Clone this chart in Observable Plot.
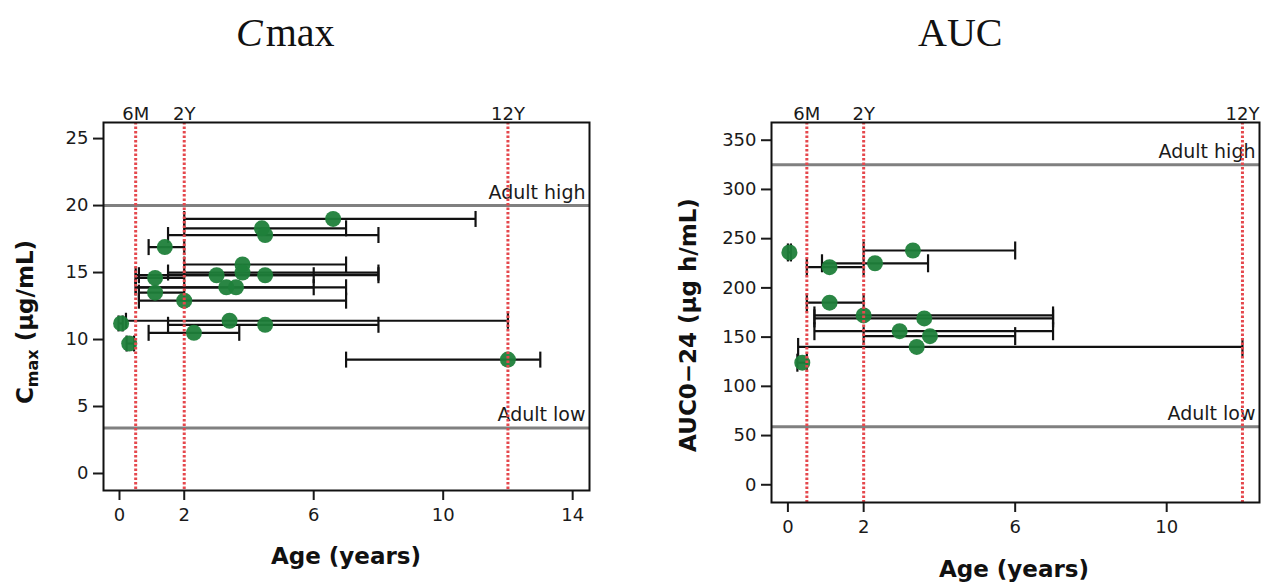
<!DOCTYPE html>
<html><head><meta charset="utf-8">
<script src="https://cdn.jsdelivr.net/npm/d3@7"></script>
<script src="https://cdn.jsdelivr.net/npm/@observablehq/plot@0.6"></script>
<style>
html,body{margin:0;padding:0;background:#fff;}
#wrap{position:relative;width:1261px;height:583px;overflow:hidden;background:#fff;}
.title{position:absolute;font-family:"Liberation Serif",serif;font-size:40px;line-height:1;color:#111;white-space:nowrap;}
#left,#right{position:absolute;top:60px;}
#left{left:0;} #right{left:630px;}
</style></head><body>
<div id="wrap">
<div class="title" style="left:236px;top:13px;"><i>C</i><span style="margin-left:3px">max</span></div>
<div class="title" style="left:918px;top:13px;">AUC</div>
<div id="left"></div><div id="right"></div>
</div>
<script>
// ---- Cmax panel data ----
const cmaxAge = [6.6, 4.4, 4.5, 1.4, 3.8, 3.8, 3.0, 4.5, 1.1, 3.3, 3.6, 1.1, 2.0, 0.05, 3.4, 4.5, 2.3, 0.3, 12.0];
const cmaxValue = [19.0, 18.3, 17.8, 16.9, 15.6, 15.0, 14.8, 14.8, 14.6, 13.9, 13.9, 13.5, 12.9, 11.2, 11.4, 11.1, 10.5, 9.7, 8.5];
const cmaxAgeLow = [2, 2, 1.5, 0.9, 2, 1.5, 0.6, 0.5, 0.5, 0.5, 0.5, 0.6, 0.6, -0.03, 0.2, 1.5, 0.9, 0.22, 7];
const cmaxAgeHigh = [11, 7, 8, 2, 7, 8, 8, 6, 2, 7, 6, 2, 7, 0.1, 12, 8, 3.7, 0.45, 13];
const cmaxAdult = [20, 3.4];
const cmaxXTicks = [0, 2, 6, 10, 14];
const cmaxYTicks = [0, 5, 10, 15, 20, 25];

// ---- AUC panel data ----
const aucAge = [0.04, 3.3, 1.1, 2.3, 1.1, 2.0, 3.6, 2.95, 3.75, 3.4, 0.38];
const aucValue = [236, 238, 221, 225, 185, 172, 169, 156, 151, 140, 124];
const aucAgeLow = [0, 2, 0.5, 0.9, 0.5, 0.7, 0.7, 0.7, 2, 0.27, 0.25];
const aucAgeHigh = [0.08, 6, 2, 3.7, 2, 7, 7, 7, 6, 12, 0.5];
const aucAdult = [325, 59];
const aucXTicks = [0, 2, 6, 10];
const aucYTicks = [0, 50, 100, 150, 200, 250, 300, 350];

// ---- shared ----
const adultLabels = ["Adult high", "Adult low"];
const milestoneAge = [0.5, 2, 12];
const milestoneLabels = ["6M", "2Y", "12Y"];

const capSymbol = {draw(ctx, size) { const h = Math.sqrt(size / Math.PI); ctx.moveTo(0, -h); ctx.lineTo(0, h); }};

function panel(o) {
  const pts = o.ages.map((a, i) => ({age: a, v: o.vals[i], lo: o.lo[i], hi: o.hi[i]}));
  const adultData = o.adult.map((v, i) => ({v, label: adultLabels[i]}));
  const ms = milestoneAge.map((a, i) => ({a, label: milestoneLabels[i]}));
  return Plot.plot({
    width: o.width, height: o.height,
    marginLeft: o.ml, marginRight: o.mr, marginTop: o.mt, marginBottom: o.mb,
    x: {domain: o.xDomain},
    y: {domain: o.yDomain},
    style: {fontFamily: "DejaVu Sans", fontSize: "18px", color: "#1a1a1a", background: "transparent", overflow: "visible"},
    marks: [
      Plot.ruleY(adultData, {y: "v", stroke: "#808080", strokeWidth: 3}),
      Plot.text(adultData, {y: "v", text: "label", frameAnchor: "right", textAnchor: "end", dx: -4, dy: -13, fontSize: 19}),
      Plot.ruleY(pts, {y: "v", x1: "lo", x2: "hi", stroke: "#111", strokeWidth: 2.2}),
      Plot.dot(pts, {x: "lo", y: "v", symbol: capSymbol, r: o.capR, stroke: "#111", fill: "none", strokeWidth: 2.2}),
      Plot.dot(pts, {x: "hi", y: "v", symbol: capSymbol, r: o.capR, stroke: "#111", fill: "none", strokeWidth: 2.2}),
      Plot.dot(pts, {x: "age", y: "v", r: 8, fill: "#1f7f3a", fillOpacity: 0.95}),
      Plot.ruleX(ms, {x: "a", stroke: "#e5484d", strokeWidth: 3, strokeDasharray: "2.5,2"}),
      Plot.text(ms, {x: "a", text: "label", frameAnchor: "top", dy: -15, fontSize: 18}),
      Plot.axisX({ticks: o.xTicks, tickSize: 10, tickPadding: 8, fontSize: 18, label: null, strokeWidth: 2}),
      Plot.axisY({ticks: o.yTicks, tickSize: 10, tickPadding: 5, fontSize: 18, label: null, strokeWidth: 2}),
      Plot.frame({stroke: "#111", strokeWidth: 2})
    ]
  });
}

const left = panel({ages: cmaxAge, vals: cmaxValue, lo: cmaxAgeLow, hi: cmaxAgeHigh, adult: cmaxAdult,
  width: 630, height: 523, ml: 103, mr: 41, mt: 62, mb: 93,
  xDomain: [-0.494, 14.52], yDomain: [-1.27, 26.2], xTicks: cmaxXTicks, yTicks: cmaxYTicks, capR: 8});
const right = panel({ages: aucAge, vals: aucValue, lo: aucAgeLow, hi: aucAgeHigh, adult: aucAdult,
  width: 631, height: 523, ml: 141, mr: 2, mt: 62, mb: 81,
  xDomain: [-0.433, 12.45], yDomain: [-18, 368], xTicks: aucXTicks, yTicks: aucYTicks, capR: 9});

document.getElementById("left").appendChild(left);
document.getElementById("right").appendChild(right);

function axisTitle(svg, x, y, rotate, parts) {
  const t = d3.select(svg).append("text")
    .attr("transform", `translate(${x},${y})` + (rotate ? " rotate(-90)" : ""))
    .attr("text-anchor", "middle")
    .attr("font-family", "DejaVu Sans").attr("font-weight", "bold").attr("font-size", 23).attr("fill", "#111");
  parts.forEach(p => {
    const s = t.append("tspan").text(p.text);
    if (p.sub) s.attr("font-size", 16).attr("dy", 5);
    if (p.up) s.attr("dy", -5);
  });
}
axisTitle(left, 346, 504, false, [{text: "Age (years)"}]);
axisTitle(left, 33, 262, true, [{text: "C"}, {text: "max", sub: true}, {text: " (µg/mL)", up: true}]);
axisTitle(right, 384, 517, false, [{text: "Age (years)"}]);
axisTitle(right, 66, 265, true, [{text: "AUC0\u221224 (µg h/mL)"}]);
</script>
</body></html>
